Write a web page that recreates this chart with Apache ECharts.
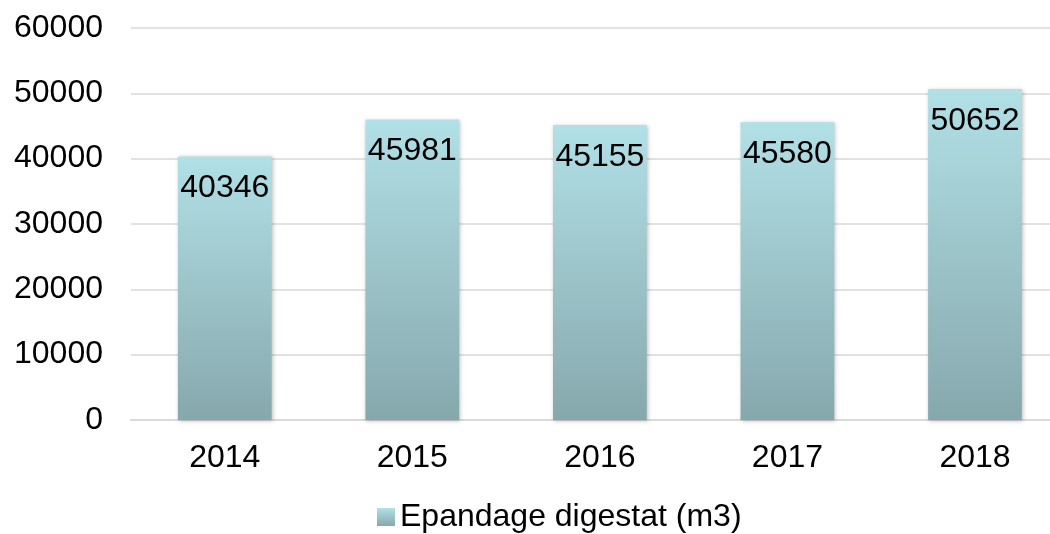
<!DOCTYPE html>
<html><head><meta charset="utf-8">
<script src="https://cdn.jsdelivr.net/npm/echarts@6/dist/echarts.min.js"></script>
<style>html,body{margin:0;padding:0;background:#fff}#c{width:1050px;height:534px}</style>
</head><body><div id="c"></div>
<script>
const categories = ['2014','2015','2016','2017','2018'];
const values = [40346, 45981, 45155, 45580, 50652];
const seriesName = 'Epandage digestat (m3)';
const chart = echarts.init(document.getElementById('c'));
const mkGrad = () => new echarts.graphic.LinearGradient(0,0,0,1,[{offset:0,color:'#B1E0E6'},{offset:1,color:'#86A8AD'}]);
const FONT = 'Liberation Sans, Arial';
chart.setOption({
  animation:false,
  grid:{left:131,top:28,right:-18.75,height:392,containLabel:false,outerBoundsMode:'none'},
  legend:{bottom:-4,left:372,itemWidth:18,itemHeight:18,itemGap:6,icon:'rect',
    textStyle:{fontFamily:FONT,fontSize:32,color:'#000'},
    data:[{name:seriesName,itemStyle:{color:mkGrad()}}]},
  xAxis:{type:'category',data:categories,axisTick:{show:false},
    axisLine:{lineStyle:{color:'#d9d9d9',width:2}},
    axisLabel:{fontFamily:FONT,fontSize:32,color:'#000',margin:22}},
  yAxis:{type:'value',min:0,max:60000,interval:10000,
    axisLine:{show:false},axisTick:{show:false},
    splitLine:{lineStyle:{color:'#d9d9d9',width:1.5}},
    axisLabel:{fontFamily:FONT,fontSize:32,color:'#000',margin:28,formatter:v=>String(v)}},
  series:[{name:seriesName,type:'bar',data:values,barWidth:'50%',
    itemStyle:{color:mkGrad(),shadowColor:'rgba(0,0,0,0.25)',shadowBlur:4,shadowOffsetX:1,shadowOffsetY:1},
    label:{show:true,position:'insideTop',distance:16,fontFamily:FONT,fontSize:32,color:'#000'}}]
});
</script></body></html>
